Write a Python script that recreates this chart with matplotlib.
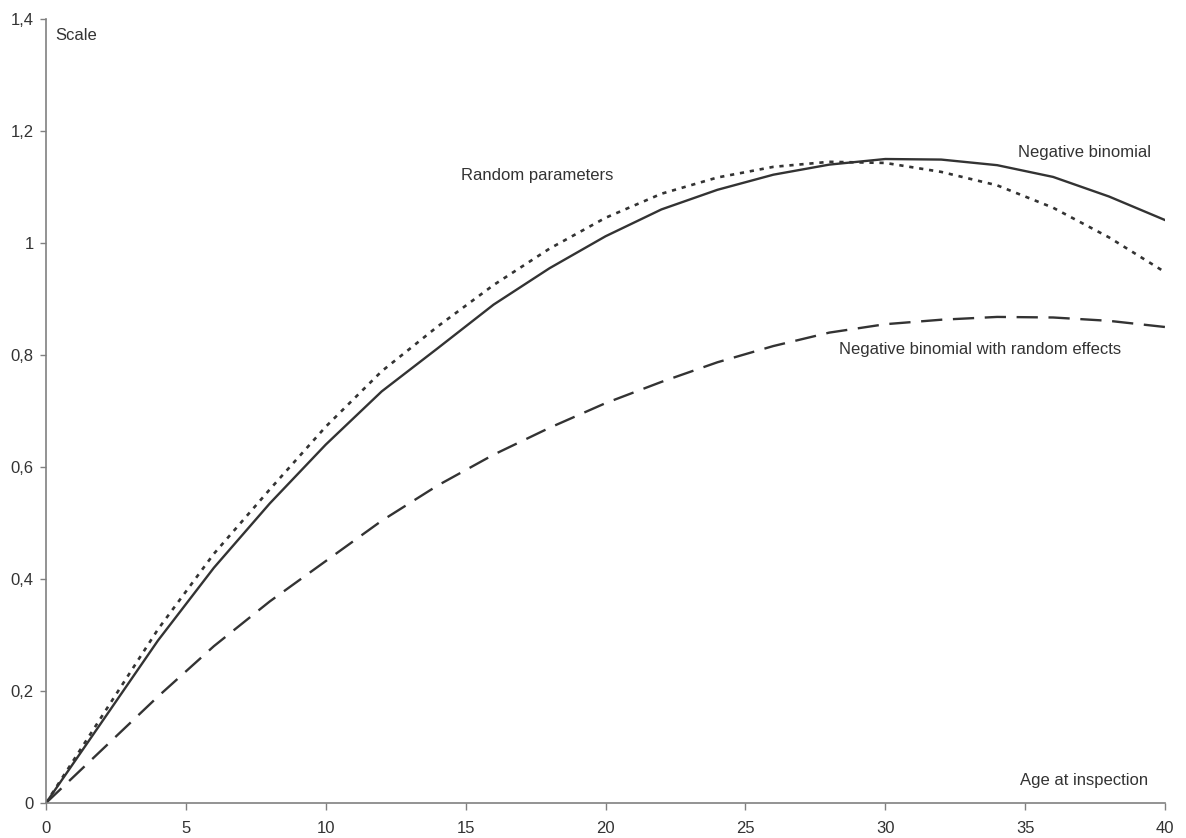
import numpy as np
import matplotlib.pyplot as plt

plt.rcParams['font.family'] = ['Liberation Sans', 'DejaVu Sans']

# age at inspection
age = [0, 2, 4, 6, 8, 10, 12, 14, 16, 18, 20, 22, 24, 26, 28, 30, 32, 34, 36, 38, 40]

# scale values
neg_bin = [0, 0.145, 0.290, 0.420, 0.535, 0.640, 0.735, 0.812, 0.890, 0.955, 1.012,
           1.060, 1.095, 1.122, 1.140, 1.150, 1.149, 1.139, 1.118, 1.083, 1.041]
rand_par = [0, 0.155, 0.310, 0.445, 0.560, 0.672, 0.771, 0.851, 0.925, 0.990, 1.045,
            1.088, 1.117, 1.136, 1.145, 1.143, 1.127, 1.103, 1.063, 1.010, 0.948]
neg_bin_re = [0, 0.095, 0.190, 0.280, 0.360, 0.432, 0.504, 0.567, 0.622, 0.670, 0.714,
              0.752, 0.787, 0.816, 0.840, 0.855, 0.863, 0.868, 0.867, 0.861, 0.850]

yticks = [0, 0.2, 0.4, 0.6, 0.8, 1.0, 1.2, 1.4]
ylabels = ['0', '0,2', '0,4', '0,6', '0,8', '1', '1,2', '1,4']
xticks = [0, 5, 10, 15, 20, 25, 30, 35, 40]

col = '#333333'
gray = '#808080'

fig = plt.figure(figsize=(11.86, 8.38), dpi=100)
ax = fig.add_axes([0.0388, 0.0418, 0.9435, 0.9355])

ax.plot(age, neg_bin, color=col, lw=1.7, solid_joinstyle='round')
ax.plot(age, rand_par, color=col, lw=1.9, dashes=(1.6, 2.2))
ax.plot(age, neg_bin_re, color=col, lw=1.7, dashes=(9, 4.5))

ax.set_xlim(0, 40)
ax.set_ylim(0, 1.4)
ax.set_xticks(xticks)
ax.set_yticks(yticks)
ax.set_yticklabels(ylabels)

for s in ['top', 'right']:
    ax.spines[s].set_visible(False)
for s in ['left', 'bottom']:
    ax.spines[s].set_color(gray)
    ax.spines[s].set_linewidth(1.2)
ax.tick_params(axis='both', direction='out', color=gray, width=1, labelsize=12, labelcolor=col)
ax.tick_params(axis='y', length=4, pad=5)
ax.tick_params(axis='x', length=5, pad=8)

fs = 12
ax.text(0.33, 1.37, 'Scale', fontsize=fs, color=col, va='center')
ax.text(14.85, 1.121, 'Random parameters', fontsize=fs, color=col, va='center')
ax.text(34.75, 1.1625, 'Negative binomial', fontsize=fs, color=col, va='center')
ax.text(28.35, 0.809, 'Negative binomial with random effects', fontsize=fs, color=col, va='center')
ax.text(34.8, 0.041, 'Age at inspection', fontsize=fs, color=col, va='center')

fig.savefig('out.png', dpi=100)
